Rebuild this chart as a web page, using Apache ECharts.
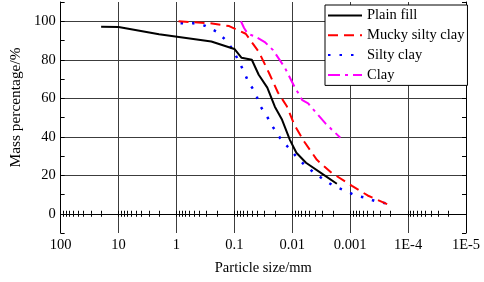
<!DOCTYPE html>
<html>
<head>
    <meta charset="UTF-8">
    <title>Particle size distribution</title>
    <script src="https://cdn.jsdelivr.net/npm/echarts@6/dist/echarts.min.js"></script>
    <style>
        html, body { margin: 0; padding: 0; background: #fff; }
        #main { width: 484px; height: 282px; }
    </style>
</head>
<body>
    <div id="main"></div>
    <script type="text/javascript">
        // 粒径 (mm) 与 累计百分比 (%)
        var plainSize = [20, 10, 2, 0.25, 0.1, 0.075, 0.05, 0.038, 0.027, 0.02, 0.015, 0.011, 0.0085, 0.0058, 0.0029, 0.0017];
        var plainPct  = [97.1, 97, 93.2, 89.5, 85.6, 81, 80, 72.2, 65.5, 55.6, 48.8, 38.4, 31.7, 26.5, 20.3, 15.6];

        var muckySize = [0.92, 0.53, 0.27, 0.123, 0.0636, 0.0377, 0.0251, 0.0177, 0.0125, 0.00916, 0.0062, 0.00376, 0.0021, 0.00093, 0.0005, 0.00023];
        var muckyPct  = [100, 99.5, 99, 97.5, 93.5, 84, 73, 63, 56, 46, 37.4, 28, 21.3, 14.5, 9.5, 5];

        var siltySize = [0.85, 0.515, 0.324, 0.203, 0.138, 0.105, 0.0834, 0.0687, 0.0566, 0.0432, 0.0369, 0.0271, 0.0215, 0.0164, 0.012, 0.00847, 0.0062, 0.00421, 0.00286, 0.00194, 0.00122, 0.000798, 0.000541, 0.00034, 0.000213];
        var siltyPct  = [99, 99, 97.7, 94.6, 90, 85, 79, 74, 68, 63, 56.6, 50.4, 45, 39.5, 34.8, 29.6, 25.5, 21.3, 17.7, 14.5, 12, 9.4, 8.3, 6.2, 5.2];

        var claySize = [0.077, 0.068, 0.0587, 0.0431, 0.0293, 0.0215, 0.0135, 0.00916, 0.00671, 0.00532, 0.00265, 0.00148];
        var clayPct  = [100, 96.5, 93.5, 92, 89, 85, 76, 66, 59, 57.3, 46.8, 39.5];

        var names = ['Plain fill', 'Mucky silty clay', 'Silty clay', 'Clay'];

        function pairs(xs, ys) {
            var out = [];
            for (var i = 0; i < xs.length; i++) {
                out.push([xs[i], ys[i]]);
            }
            return out;
        }

        // 对数轴的刻度 1..9 x 10^e
        var logTicks = [];
        for (var e = -5; e <= 1; e++) {
            for (var m = 1; m <= 9; m++) {
                logTicks.push(Number((m * Math.pow(10, e)).toPrecision(3)));
            }
        }
        logTicks.push(100);

        // 刻度文字: 100 10 1 0.1 0.01 0.001 1E-4 1E-5
        function sizeLabel(v) {
            var e = Math.round(Math.log(v) / Math.LN10);
            if (e >= -3) {
                return String(Number(Math.pow(10, e).toFixed(Math.max(0, -e))));
            }
            return '1E' + e;
        }

        var font = '"Liberation Serif", "Times New Roman", serif';
        var grid = '#3c3c3c';
        var myChart = echarts.init(document.getElementById('main'));

        var logAxis = {
            type: 'log',
            logBase: 10,
            min: 0.00001,
            max: 100,
            inverse: true,
            axisLine: { lineStyle: { color: '#000', width: 1 } },
            axisTick: { inside: true, length: 3, customValues: logTicks, lineStyle: { color: '#000' } }
        };

        var option = {
            animation: false,
            textStyle: { fontFamily: font },
            grid: { left: 50, right: 18, top: 2, bottom: 49 },
            legend: {
                orient: 'vertical',
                left: 325,
                top: 5,
                data: names,
                backgroundColor: '#fff',
                borderColor: '#000',
                borderWidth: 1,
                borderRadius: 0,
                padding: [3, 3, 3, 2],
                itemWidth: 34,
                itemHeight: 14,
                itemGap: 4.8,
                itemStyle: { color: 'transparent', borderColor: 'transparent', borderWidth: 0 },
                textStyle: { fontFamily: font, fontSize: 14.5, color: '#000' }
            },
            xAxis: [
                Object.assign({}, logAxis, {
                    position: 'bottom',
                    name: 'Particle size/mm',
                    nameLocation: 'middle',
                    nameGap: 28,
                    nameTextStyle: { fontFamily: font, fontSize: 14.5, color: '#000' },
                    axisLabel: {
                        margin: 5,
                        fontFamily: font, fontSize: 14.5, color: '#000',
                        formatter: sizeLabel
                    },
                    // 只在整十倍处画网格线
                    splitLine: {
                        show: true,
                        lineStyle: {
                            color: [grid, 'transparent', 'transparent', 'transparent', 'transparent',
                                'transparent', 'transparent', 'transparent', 'transparent'],
                            width: 1
                        }
                    }
                }),
                Object.assign({}, logAxis, {
                    position: 'top',
                    axisLabel: { show: false },
                    splitLine: { show: false }
                })
            ],
            yAxis: [
                {
                    type: 'value',
                    position: 'left',
                    min: -10,
                    max: 110,
                    interval: 10,
                    name: 'Mass percentage/%',
                    nameLocation: 'middle',
                    nameGap: 31,
                    nameTextStyle: { fontFamily: font, fontSize: 15.4, color: '#000', padding: [0, 0, 0, 20] },
                    axisLine: { show: true, lineStyle: { color: '#000', width: 1 } },
                    axisTick: { show: true, inside: true, length: 4, lineStyle: { color: '#000' } },
                    axisLabel: {
                        margin: 5,
                        fontFamily: font, fontSize: 14.5, color: '#000',
                        formatter: function (v) { return v % 20 === 0 ? String(v) : ''; }
                    },
                    // 只在 0,20,...,100 画网格线
                    splitLine: { show: true, lineStyle: { color: ['transparent', grid], width: 1 } }
                },
                {
                    type: 'value',
                    position: 'right',
                    min: -10,
                    max: 110,
                    interval: 10,
                    axisLine: { show: true, lineStyle: { color: '#000', width: 1 } },
                    axisTick: { show: true, inside: true, length: 4, lineStyle: { color: '#000' } },
                    axisLabel: { show: false },
                    splitLine: { show: false }
                }
            ],
            series: [
                {
                    name: names[0],
                    type: 'line',
                    data: pairs(plainSize, plainPct),
                    symbol: 'none',
                    lineStyle: { color: '#000', width: 2, type: 'solid' },
                    itemStyle: { color: '#000' },
                    z: 5
                },
                {
                    name: names[1],
                    type: 'line',
                    data: pairs(muckySize, muckyPct),
                    symbol: 'none',
                    lineStyle: { color: '#ff0000', width: 2, type: [10, 6] },
                    itemStyle: { color: '#ff0000' },
                    z: 4
                },
                {
                    name: names[2],
                    type: 'line',
                    data: pairs(siltySize, siltyPct),
                    symbol: 'none',
                    lineStyle: { color: '#0000ff', width: 2.5, type: [2.5, 9] },
                    itemStyle: { color: '#0000ff' },
                    z: 3
                },
                {
                    name: names[3],
                    type: 'line',
                    data: pairs(claySize, clayPct),
                    symbol: 'none',
                    lineStyle: { color: '#ff00ff', width: 2, type: [12, 5, 3, 5] },
                    itemStyle: { color: '#ff00ff' },
                    z: 3
                }
            ]
        };

        myChart.setOption(option);
    </script>
</body>
</html>
